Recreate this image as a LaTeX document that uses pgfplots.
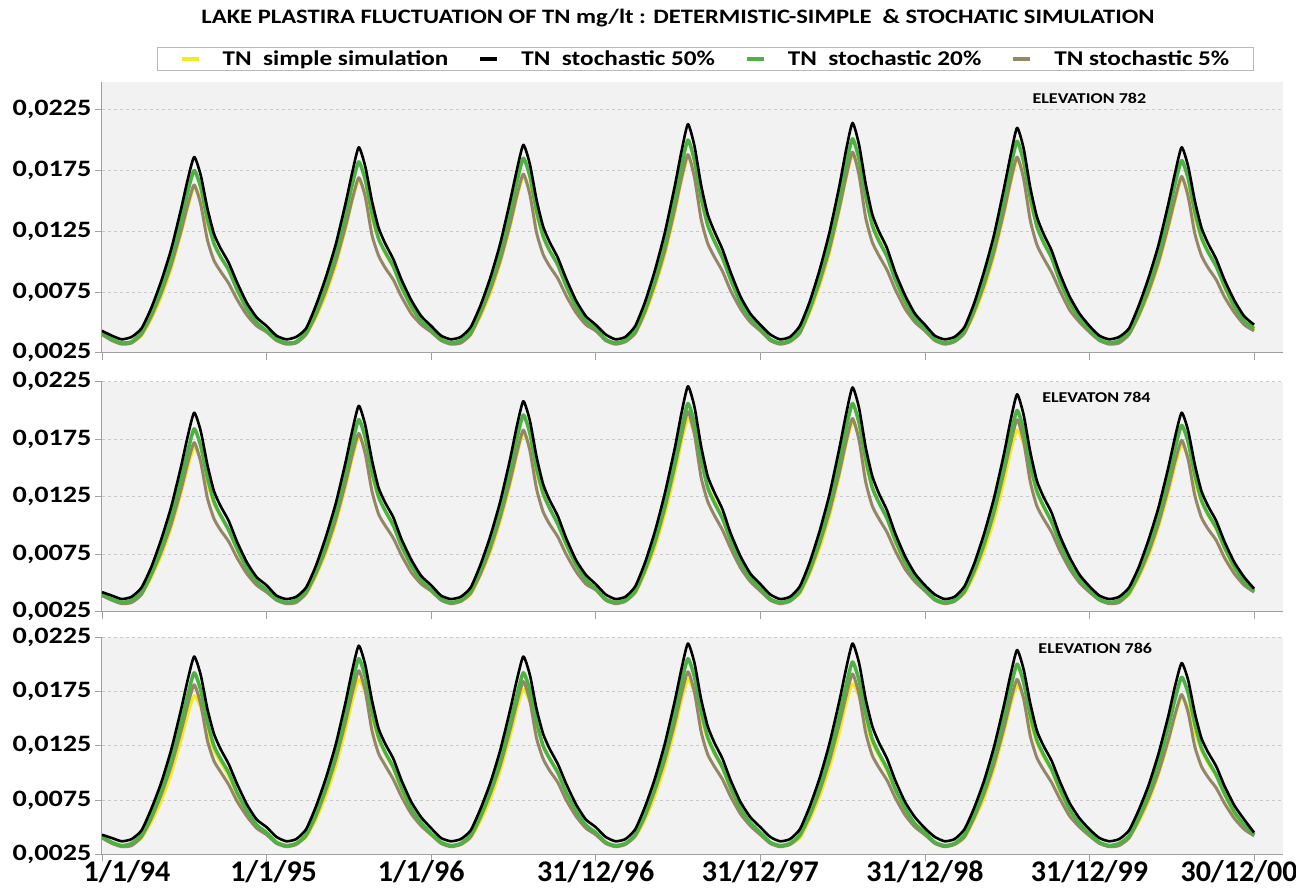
\documentclass[border=0pt]{standalone}
\usepackage{pgfplots}
\pgfplotsset{compat=1.18}
\usepackage{pgfplotstable}
\usepackage{fontspec}
\setmainfont{Carlito}
\newfontfamily\sfont{Carlito}[FakeStretch=1.2]
\definecolor{cyel}{RGB}{240,236,30}
\definecolor{cgrn}{RGB}{76,178,66}
\definecolor{cbrn}{RGB}{150,134,104}
\definecolor{bggray}{RGB}{242,242,242}
\definecolor{axgray}{RGB}{160,160,160}
\definecolor{gridgray}{RGB}{200,200,200}

\pgfplotstableread{
x yel blk grn brn
0.00 0.0040 0.0043 0.0041 0.0040
0.06 0.0036 0.0039 0.0036 0.0035
0.12 0.0033 0.0036 0.0033 0.0032
0.18 0.0034 0.0038 0.0034 0.0033
0.24 0.0039 0.0045 0.0042 0.0040
0.30 0.0053 0.0062 0.0058 0.0055
0.36 0.0071 0.0084 0.0078 0.0074
0.42 0.0094 0.0110 0.0103 0.0097
0.48 0.0123 0.0143 0.0134 0.0125
0.52 0.0144 0.0167 0.0157 0.0146
0.56 0.0161 0.0186 0.0175 0.0163
0.60 0.0151 0.0171 0.0161 0.0147
0.64 0.0132 0.0144 0.0135 0.0118
0.68 0.0115 0.0123 0.0115 0.0101
0.72 0.0104 0.0111 0.0104 0.0092
0.77 0.0093 0.0099 0.0093 0.0082
0.82 0.0077 0.0083 0.0077 0.0069
0.88 0.0061 0.0066 0.0061 0.0056
0.94 0.0049 0.0054 0.0050 0.0047
1.00 0.0042 0.0047 0.0043 0.0042
1.06 0.0036 0.0039 0.0036 0.0035
1.12 0.0033 0.0036 0.0033 0.0032
1.18 0.0034 0.0038 0.0034 0.0033
1.24 0.0040 0.0045 0.0042 0.0040
1.30 0.0054 0.0064 0.0059 0.0056
1.36 0.0073 0.0087 0.0081 0.0076
1.42 0.0097 0.0114 0.0107 0.0100
1.48 0.0127 0.0148 0.0139 0.0129
1.52 0.0150 0.0173 0.0163 0.0151
1.56 0.0167 0.0194 0.0182 0.0169
1.60 0.0156 0.0178 0.0167 0.0153
1.64 0.0136 0.0150 0.0140 0.0122
1.68 0.0119 0.0128 0.0119 0.0105
1.72 0.0107 0.0115 0.0108 0.0095
1.77 0.0095 0.0102 0.0096 0.0085
1.82 0.0079 0.0085 0.0079 0.0071
1.88 0.0062 0.0068 0.0063 0.0057
1.94 0.0050 0.0055 0.0051 0.0048
2.00 0.0043 0.0047 0.0044 0.0042
2.06 0.0036 0.0039 0.0036 0.0035
2.12 0.0033 0.0036 0.0033 0.0032
2.18 0.0034 0.0038 0.0035 0.0033
2.24 0.0040 0.0046 0.0042 0.0040
2.30 0.0055 0.0064 0.0060 0.0057
2.36 0.0074 0.0087 0.0082 0.0077
2.42 0.0099 0.0115 0.0108 0.0101
2.48 0.0129 0.0150 0.0141 0.0131
2.52 0.0152 0.0175 0.0165 0.0154
2.56 0.0170 0.0196 0.0185 0.0172
2.60 0.0159 0.0180 0.0170 0.0155
2.64 0.0138 0.0151 0.0142 0.0124
2.68 0.0121 0.0129 0.0121 0.0106
2.72 0.0109 0.0116 0.0109 0.0096
2.77 0.0097 0.0103 0.0097 0.0086
2.82 0.0080 0.0086 0.0080 0.0072
2.88 0.0062 0.0068 0.0063 0.0058
2.94 0.0050 0.0055 0.0051 0.0048
3.00 0.0044 0.0048 0.0045 0.0043
3.06 0.0036 0.0040 0.0036 0.0035
3.12 0.0033 0.0036 0.0033 0.0032
3.18 0.0035 0.0038 0.0035 0.0034
3.24 0.0041 0.0047 0.0043 0.0041
3.30 0.0057 0.0067 0.0062 0.0059
3.36 0.0079 0.0093 0.0086 0.0082
3.42 0.0106 0.0124 0.0116 0.0109
3.48 0.0140 0.0162 0.0152 0.0143
3.52 0.0166 0.0190 0.0178 0.0168
3.56 0.0186 0.0213 0.0200 0.0188
3.60 0.0174 0.0195 0.0183 0.0169
3.64 0.0151 0.0163 0.0153 0.0135
3.68 0.0131 0.0139 0.0130 0.0115
3.72 0.0118 0.0125 0.0117 0.0104
3.77 0.0104 0.0110 0.0103 0.0092
3.82 0.0085 0.0091 0.0085 0.0076
3.88 0.0066 0.0071 0.0066 0.0061
3.94 0.0052 0.0057 0.0053 0.0050
4.00 0.0044 0.0048 0.0045 0.0043
4.06 0.0036 0.0040 0.0036 0.0035
4.12 0.0033 0.0036 0.0033 0.0032
4.18 0.0035 0.0038 0.0035 0.0034
4.24 0.0041 0.0047 0.0043 0.0041
4.30 0.0058 0.0067 0.0062 0.0060
4.36 0.0080 0.0093 0.0087 0.0083
4.42 0.0107 0.0124 0.0116 0.0110
4.48 0.0142 0.0162 0.0152 0.0144
4.52 0.0168 0.0191 0.0179 0.0169
4.56 0.0188 0.0214 0.0201 0.0190
4.60 0.0176 0.0196 0.0184 0.0171
4.64 0.0152 0.0164 0.0154 0.0136
4.68 0.0132 0.0139 0.0130 0.0116
4.72 0.0119 0.0125 0.0117 0.0105
4.77 0.0105 0.0111 0.0104 0.0093
4.82 0.0086 0.0091 0.0085 0.0077
4.88 0.0066 0.0072 0.0067 0.0061
4.94 0.0052 0.0057 0.0053 0.0050
5.00 0.0044 0.0048 0.0045 0.0043
5.06 0.0036 0.0039 0.0036 0.0035
5.12 0.0033 0.0036 0.0033 0.0032
5.18 0.0035 0.0038 0.0035 0.0034
5.24 0.0041 0.0046 0.0043 0.0041
5.30 0.0057 0.0066 0.0062 0.0059
5.36 0.0078 0.0092 0.0086 0.0081
5.42 0.0105 0.0122 0.0115 0.0108
5.48 0.0139 0.0160 0.0151 0.0141
5.52 0.0164 0.0187 0.0177 0.0166
5.56 0.0184 0.0210 0.0199 0.0186
5.60 0.0172 0.0193 0.0182 0.0168
5.64 0.0149 0.0161 0.0153 0.0134
5.68 0.0130 0.0137 0.0129 0.0114
5.72 0.0117 0.0123 0.0116 0.0103
5.77 0.0103 0.0109 0.0103 0.0091
5.82 0.0084 0.0090 0.0084 0.0076
5.88 0.0065 0.0071 0.0066 0.0060
5.94 0.0052 0.0057 0.0053 0.0050
6.00 0.0042 0.0047 0.0044 0.0042
6.06 0.0036 0.0039 0.0036 0.0035
6.12 0.0033 0.0036 0.0033 0.0032
6.18 0.0034 0.0038 0.0035 0.0033
6.24 0.0040 0.0045 0.0042 0.0040
6.30 0.0055 0.0064 0.0059 0.0056
6.36 0.0074 0.0087 0.0081 0.0076
6.42 0.0098 0.0114 0.0107 0.0100
6.48 0.0128 0.0148 0.0140 0.0130
6.52 0.0150 0.0173 0.0164 0.0152
6.56 0.0168 0.0194 0.0183 0.0170
6.60 0.0157 0.0178 0.0168 0.0153
6.64 0.0137 0.0150 0.0141 0.0123
6.68 0.0119 0.0128 0.0120 0.0105
6.72 0.0108 0.0115 0.0108 0.0095
6.77 0.0096 0.0102 0.0096 0.0085
6.82 0.0079 0.0085 0.0080 0.0071
6.88 0.0062 0.0068 0.0063 0.0058
6.94 0.0050 0.0055 0.0051 0.0048
7.00 0.0044 0.0048 0.0045 0.0043
}\tabA

\pgfplotstableread{
x yel blk grn brn
0.00 0.0040 0.0042 0.0040 0.0039
0.06 0.0036 0.0039 0.0036 0.0035
0.12 0.0033 0.0036 0.0033 0.0032
0.18 0.0034 0.0038 0.0035 0.0033
0.24 0.0040 0.0046 0.0042 0.0040
0.30 0.0055 0.0064 0.0059 0.0057
0.36 0.0074 0.0088 0.0081 0.0077
0.42 0.0098 0.0116 0.0108 0.0101
0.48 0.0128 0.0151 0.0140 0.0131
0.52 0.0150 0.0177 0.0164 0.0154
0.56 0.0168 0.0198 0.0184 0.0172
0.60 0.0157 0.0182 0.0169 0.0155
0.64 0.0137 0.0153 0.0142 0.0124
0.68 0.0119 0.0130 0.0121 0.0106
0.72 0.0108 0.0117 0.0109 0.0096
0.77 0.0096 0.0104 0.0096 0.0086
0.82 0.0079 0.0086 0.0080 0.0072
0.88 0.0062 0.0068 0.0063 0.0058
0.94 0.0050 0.0055 0.0051 0.0048
1.00 0.0043 0.0048 0.0044 0.0042
1.06 0.0036 0.0039 0.0036 0.0035
1.12 0.0033 0.0036 0.0033 0.0032
1.18 0.0034 0.0038 0.0035 0.0033
1.24 0.0040 0.0046 0.0043 0.0041
1.30 0.0056 0.0065 0.0061 0.0058
1.36 0.0076 0.0090 0.0084 0.0079
1.42 0.0102 0.0119 0.0112 0.0105
1.48 0.0134 0.0155 0.0146 0.0137
1.52 0.0158 0.0182 0.0171 0.0161
1.56 0.0177 0.0204 0.0192 0.0180
1.60 0.0165 0.0187 0.0176 0.0162
1.64 0.0144 0.0157 0.0147 0.0130
1.68 0.0125 0.0133 0.0125 0.0110
1.72 0.0113 0.0120 0.0113 0.0100
1.77 0.0100 0.0107 0.0100 0.0089
1.82 0.0082 0.0088 0.0082 0.0074
1.88 0.0064 0.0070 0.0065 0.0059
1.94 0.0051 0.0056 0.0052 0.0049
2.00 0.0043 0.0048 0.0044 0.0043
2.06 0.0036 0.0039 0.0036 0.0035
2.12 0.0033 0.0036 0.0033 0.0032
2.18 0.0034 0.0038 0.0035 0.0034
2.24 0.0040 0.0046 0.0043 0.0041
2.30 0.0057 0.0066 0.0062 0.0058
2.36 0.0077 0.0091 0.0085 0.0080
2.42 0.0104 0.0121 0.0114 0.0107
2.48 0.0136 0.0158 0.0149 0.0139
2.52 0.0161 0.0186 0.0175 0.0163
2.56 0.0180 0.0208 0.0196 0.0183
2.60 0.0168 0.0191 0.0180 0.0165
2.64 0.0146 0.0160 0.0150 0.0132
2.68 0.0127 0.0136 0.0128 0.0112
2.72 0.0115 0.0122 0.0115 0.0101
2.77 0.0101 0.0108 0.0101 0.0090
2.82 0.0083 0.0089 0.0084 0.0075
2.88 0.0065 0.0070 0.0066 0.0060
2.94 0.0051 0.0057 0.0053 0.0049
3.00 0.0044 0.0049 0.0045 0.0044
3.06 0.0036 0.0040 0.0036 0.0035
3.12 0.0033 0.0036 0.0033 0.0032
3.18 0.0035 0.0038 0.0035 0.0034
3.24 0.0041 0.0047 0.0043 0.0042
3.30 0.0059 0.0068 0.0063 0.0061
3.36 0.0081 0.0095 0.0088 0.0085
3.42 0.0110 0.0128 0.0119 0.0115
3.48 0.0145 0.0167 0.0156 0.0151
3.52 0.0172 0.0197 0.0184 0.0177
3.56 0.0193 0.0221 0.0206 0.0199
3.60 0.0180 0.0203 0.0189 0.0179
3.64 0.0156 0.0169 0.0158 0.0142
3.68 0.0135 0.0143 0.0133 0.0121
3.72 0.0122 0.0129 0.0120 0.0109
3.77 0.0107 0.0114 0.0106 0.0096
3.82 0.0087 0.0093 0.0087 0.0080
3.88 0.0067 0.0073 0.0068 0.0063
3.94 0.0053 0.0058 0.0054 0.0051
4.00 0.0044 0.0049 0.0045 0.0043
4.06 0.0036 0.0040 0.0036 0.0035
4.12 0.0033 0.0036 0.0033 0.0032
4.18 0.0035 0.0038 0.0035 0.0034
4.24 0.0041 0.0047 0.0043 0.0042
4.30 0.0058 0.0068 0.0063 0.0060
4.36 0.0080 0.0095 0.0088 0.0084
4.42 0.0108 0.0127 0.0119 0.0112
4.48 0.0143 0.0167 0.0156 0.0146
4.52 0.0170 0.0196 0.0184 0.0172
4.56 0.0190 0.0220 0.0206 0.0193
4.60 0.0177 0.0202 0.0189 0.0174
4.64 0.0154 0.0168 0.0158 0.0138
4.68 0.0133 0.0143 0.0133 0.0117
4.72 0.0120 0.0128 0.0120 0.0106
4.77 0.0106 0.0113 0.0106 0.0094
4.82 0.0086 0.0093 0.0087 0.0078
4.88 0.0067 0.0073 0.0068 0.0062
4.94 0.0053 0.0058 0.0054 0.0051
5.00 0.0044 0.0048 0.0045 0.0043
5.06 0.0036 0.0040 0.0036 0.0035
5.12 0.0033 0.0036 0.0033 0.0032
5.18 0.0035 0.0038 0.0035 0.0034
5.24 0.0041 0.0047 0.0043 0.0042
5.30 0.0057 0.0067 0.0062 0.0060
5.36 0.0078 0.0093 0.0086 0.0083
5.42 0.0105 0.0124 0.0116 0.0111
5.48 0.0138 0.0162 0.0152 0.0146
5.52 0.0164 0.0191 0.0178 0.0171
5.56 0.0183 0.0214 0.0200 0.0192
5.60 0.0171 0.0196 0.0183 0.0173
5.64 0.0149 0.0164 0.0153 0.0138
5.68 0.0129 0.0139 0.0130 0.0117
5.72 0.0116 0.0125 0.0117 0.0106
5.77 0.0103 0.0111 0.0103 0.0094
5.82 0.0084 0.0091 0.0085 0.0078
5.88 0.0065 0.0072 0.0066 0.0062
5.94 0.0052 0.0057 0.0053 0.0050
6.00 0.0043 0.0047 0.0044 0.0042
6.06 0.0036 0.0039 0.0036 0.0035
6.12 0.0033 0.0036 0.0033 0.0032
6.18 0.0034 0.0038 0.0035 0.0033
6.24 0.0040 0.0046 0.0042 0.0041
6.30 0.0055 0.0064 0.0060 0.0057
6.36 0.0074 0.0088 0.0082 0.0077
6.42 0.0099 0.0116 0.0109 0.0102
6.48 0.0129 0.0151 0.0142 0.0133
6.52 0.0152 0.0177 0.0167 0.0156
6.56 0.0170 0.0198 0.0187 0.0174
6.60 0.0159 0.0182 0.0172 0.0157
6.64 0.0138 0.0153 0.0144 0.0126
6.68 0.0121 0.0130 0.0122 0.0107
6.72 0.0109 0.0117 0.0110 0.0097
6.77 0.0097 0.0104 0.0098 0.0087
6.82 0.0080 0.0086 0.0081 0.0072
6.88 0.0062 0.0068 0.0064 0.0058
6.94 0.0050 0.0055 0.0051 0.0048
7.00 0.0043 0.0045 0.0043 0.0042
}\tabB

\pgfplotstableread{
x yel blk grn brn
0.00 0.0041 0.0043 0.0041 0.0040
0.06 0.0036 0.0040 0.0036 0.0035
0.12 0.0033 0.0037 0.0033 0.0032
0.18 0.0034 0.0039 0.0035 0.0033
0.24 0.0040 0.0047 0.0043 0.0041
0.30 0.0055 0.0067 0.0061 0.0058
0.36 0.0074 0.0091 0.0084 0.0080
0.42 0.0099 0.0121 0.0112 0.0106
0.48 0.0130 0.0158 0.0146 0.0138
0.52 0.0153 0.0185 0.0171 0.0162
0.56 0.0171 0.0207 0.0192 0.0181
0.60 0.0160 0.0190 0.0176 0.0163
0.64 0.0139 0.0159 0.0147 0.0130
0.68 0.0121 0.0136 0.0125 0.0111
0.72 0.0110 0.0122 0.0113 0.0101
0.77 0.0097 0.0108 0.0100 0.0089
0.82 0.0080 0.0090 0.0082 0.0074
0.88 0.0063 0.0071 0.0065 0.0060
0.94 0.0050 0.0057 0.0052 0.0049
1.00 0.0044 0.0050 0.0045 0.0043
1.06 0.0036 0.0041 0.0036 0.0035
1.12 0.0033 0.0037 0.0033 0.0032
1.18 0.0035 0.0039 0.0035 0.0034
1.24 0.0041 0.0048 0.0043 0.0042
1.30 0.0057 0.0069 0.0063 0.0060
1.36 0.0079 0.0095 0.0088 0.0084
1.42 0.0106 0.0126 0.0118 0.0112
1.48 0.0140 0.0165 0.0155 0.0147
1.52 0.0166 0.0194 0.0183 0.0173
1.56 0.0186 0.0217 0.0205 0.0194
1.60 0.0174 0.0199 0.0188 0.0175
1.64 0.0151 0.0167 0.0157 0.0139
1.68 0.0131 0.0141 0.0133 0.0118
1.72 0.0118 0.0127 0.0119 0.0107
1.77 0.0104 0.0113 0.0105 0.0094
1.82 0.0085 0.0093 0.0086 0.0078
1.88 0.0066 0.0073 0.0067 0.0062
1.94 0.0052 0.0059 0.0054 0.0051
2.00 0.0043 0.0049 0.0044 0.0043
2.06 0.0036 0.0040 0.0036 0.0035
2.12 0.0033 0.0037 0.0033 0.0032
2.18 0.0034 0.0039 0.0035 0.0034
2.24 0.0040 0.0047 0.0043 0.0041
2.30 0.0056 0.0067 0.0061 0.0059
2.36 0.0076 0.0091 0.0084 0.0081
2.42 0.0102 0.0121 0.0112 0.0107
2.48 0.0134 0.0158 0.0146 0.0140
2.52 0.0158 0.0185 0.0171 0.0164
2.56 0.0177 0.0207 0.0192 0.0184
2.60 0.0165 0.0190 0.0176 0.0166
2.64 0.0144 0.0159 0.0147 0.0132
2.68 0.0125 0.0136 0.0125 0.0113
2.72 0.0113 0.0122 0.0113 0.0102
2.77 0.0100 0.0108 0.0100 0.0091
2.82 0.0082 0.0090 0.0082 0.0075
2.88 0.0064 0.0071 0.0065 0.0060
2.94 0.0051 0.0057 0.0052 0.0049
3.00 0.0044 0.0050 0.0045 0.0043
3.06 0.0036 0.0041 0.0036 0.0035
3.12 0.0033 0.0037 0.0033 0.0032
3.18 0.0035 0.0039 0.0035 0.0034
3.24 0.0041 0.0048 0.0043 0.0042
3.30 0.0057 0.0069 0.0063 0.0060
3.36 0.0079 0.0095 0.0088 0.0084
3.42 0.0106 0.0127 0.0118 0.0112
3.48 0.0140 0.0166 0.0155 0.0146
3.52 0.0166 0.0195 0.0183 0.0172
3.56 0.0186 0.0219 0.0205 0.0193
3.60 0.0174 0.0201 0.0188 0.0174
3.64 0.0151 0.0168 0.0157 0.0138
3.68 0.0131 0.0143 0.0133 0.0117
3.72 0.0118 0.0128 0.0119 0.0106
3.77 0.0104 0.0113 0.0105 0.0094
3.82 0.0085 0.0093 0.0086 0.0078
3.88 0.0066 0.0073 0.0067 0.0062
3.94 0.0052 0.0059 0.0054 0.0051
4.00 0.0043 0.0050 0.0045 0.0043
4.06 0.0036 0.0041 0.0036 0.0035
4.12 0.0033 0.0037 0.0033 0.0032
4.18 0.0034 0.0039 0.0035 0.0034
4.24 0.0040 0.0048 0.0043 0.0042
4.30 0.0057 0.0069 0.0063 0.0060
4.36 0.0078 0.0095 0.0087 0.0083
4.42 0.0105 0.0127 0.0117 0.0111
4.48 0.0137 0.0166 0.0153 0.0145
4.52 0.0163 0.0195 0.0180 0.0170
4.56 0.0182 0.0219 0.0202 0.0191
4.60 0.0170 0.0201 0.0185 0.0172
4.64 0.0148 0.0168 0.0155 0.0137
4.68 0.0128 0.0143 0.0131 0.0116
4.72 0.0116 0.0128 0.0118 0.0105
4.77 0.0102 0.0113 0.0104 0.0093
4.82 0.0084 0.0093 0.0085 0.0077
4.88 0.0065 0.0073 0.0067 0.0061
4.94 0.0052 0.0059 0.0053 0.0050
5.00 0.0043 0.0049 0.0045 0.0043
5.06 0.0036 0.0041 0.0036 0.0035
5.12 0.0033 0.0037 0.0033 0.0032
5.18 0.0034 0.0039 0.0035 0.0034
5.24 0.0040 0.0048 0.0043 0.0041
5.30 0.0057 0.0068 0.0062 0.0059
5.36 0.0077 0.0093 0.0086 0.0081
5.42 0.0104 0.0124 0.0116 0.0108
5.48 0.0137 0.0162 0.0152 0.0141
5.52 0.0162 0.0190 0.0178 0.0166
5.56 0.0181 0.0213 0.0200 0.0186
5.60 0.0169 0.0195 0.0183 0.0168
5.64 0.0147 0.0164 0.0153 0.0134
5.68 0.0128 0.0139 0.0130 0.0114
5.72 0.0115 0.0125 0.0117 0.0103
5.77 0.0102 0.0111 0.0103 0.0091
5.82 0.0083 0.0092 0.0085 0.0076
5.88 0.0065 0.0072 0.0066 0.0060
5.94 0.0052 0.0058 0.0053 0.0050
6.00 0.0043 0.0048 0.0044 0.0042
6.06 0.0036 0.0040 0.0036 0.0035
6.12 0.0033 0.0037 0.0033 0.0032
6.18 0.0034 0.0039 0.0035 0.0033
6.24 0.0040 0.0047 0.0042 0.0040
6.30 0.0055 0.0066 0.0060 0.0057
6.36 0.0074 0.0089 0.0083 0.0077
6.42 0.0099 0.0118 0.0110 0.0101
6.48 0.0129 0.0153 0.0143 0.0131
6.52 0.0152 0.0180 0.0168 0.0154
6.56 0.0170 0.0201 0.0188 0.0172
6.60 0.0159 0.0185 0.0173 0.0155
6.64 0.0138 0.0155 0.0145 0.0124
6.68 0.0121 0.0132 0.0123 0.0106
6.72 0.0109 0.0119 0.0111 0.0096
6.77 0.0097 0.0106 0.0098 0.0086
6.82 0.0080 0.0088 0.0081 0.0072
6.88 0.0062 0.0070 0.0064 0.0058
6.94 0.0050 0.0057 0.0052 0.0048
7.00 0.0043 0.0045 0.0043 0.0042
}\tabC

\pgfplotsset{
  panel/.style={
    scale only axis, width=1181pt, anchor=south west,
    xmin=0, xmax=7.176, ymin=0.0025,
    axis x line*=bottom, axis y line*=left,
    axis line style={draw=axgray, line width=1pt},
    axis background/.style={fill=bggray},
    xtick={0,1,2,3,4,5,6,7}, xticklabels={},
    ytick={0.0025,0.0075,0.0125,0.0175,0.0225},
    yticklabels={{0,0025},{0,0075},{0,0125},{0,0175},{0,0225}},
    scaled y ticks=false,
    ymajorgrids, grid style={dashed, gridgray, line width=0.8pt},
    tick align=outside, major tick length=7pt,
    tick style={draw=axgray, line width=0.8pt},
    yticklabel style={font=\sfont\bfseries\fontsize{23.5}{26}\selectfont},
    legend image code/.code={\draw[#1] (0pt,0pt) -- (17pt,0pt);},
  },
  pyel/.style={cyel, line width=3pt, line join=round, smooth, tension=0.35, forget plot},
  pbrn/.style={cbrn, line width=3pt, line join=round, smooth, tension=0.35, forget plot},
  pgrn/.style={cgrn, line width=3.5pt, line join=round, smooth, tension=0.35, forget plot},
  pblk/.style={black, line width=2.6pt, line join=round, smooth, tension=0.35, forget plot},
}

\begin{document}
\begin{tikzpicture}
\useasboundingbox (0,0) rectangle (1296pt,887pt);
\node[font=\sfont\bfseries\fontsize{20.5}{24}\selectfont] at (678pt,869pt)
  {LAKE PLASTIRA FLUCTUATION OF TN mg/lt : DETERMISTIC-SIMPLE\ \ \& STOCHATIC SIMULATION};

\begin{axis}[panel, at={(102pt,534.3pt)}, height=271pt, ymax=0.0248,
  legend columns=4,
  legend style={at={(0.511,1.043)}, anchor=south, draw=gray!55, fill=white,
    font=\sfont\bfseries\fontsize{21}{24}\selectfont, inner ysep=1pt, inner xsep=22pt,
    /tikz/every odd column/.append style={column sep=20pt},
    /tikz/every even column/.append style={column sep=28pt}},
  ]
\addplot[pyel] table[x=x,y=yel]{\tabA};
\addplot[pbrn] table[x=x,y=brn]{\tabA};
\addplot[pgrn] table[x=x,y=grn]{\tabA};
\addplot[pblk] table[x=x,y=blk]{\tabA};
\addlegendimage{cyel, line width=4pt}
\addlegendentry{TN\ \ simple simulation}
\addlegendimage{black, line width=4pt}
\addlegendentry{TN\ \ stochastic 50\%}
\addlegendimage{cgrn, line width=4pt}
\addlegendentry{TN\ \ stochastic 20\%}
\addlegendimage{cbrn, line width=4pt}
\addlegendentry{TN stochastic 5\%}
\node[font=\sfont\bfseries\fontsize{15}{17}\selectfont] at (rel axis cs:0.836,0.94) {ELEVATION 782};
\end{axis}

\begin{axis}[panel, at={(102pt,275.3pt)}, height=230pt, ymax=0.0225]
\addplot[pyel] table[x=x,y=yel]{\tabB};
\addplot[pbrn] table[x=x,y=brn]{\tabB};
\addplot[pgrn] table[x=x,y=grn]{\tabB};
\addplot[pblk] table[x=x,y=blk]{\tabB};
\node[font=\sfont\bfseries\fontsize{15}{17}\selectfont] at (rel axis cs:0.842,0.933) {ELEVATON 784};
\end{axis}

\begin{axis}[panel, at={(102pt,32.7pt)}, height=217.3pt, ymax=0.0225,
  xticklabels={\hspace*{50pt}1/1/94, \hspace*{14pt}1/1/95, 1/1/96\hspace*{20pt}, 31/12/96, 31/12/97, 31/12/98, 31/12/99, 30/12/00\hspace*{30pt}},
  xticklabel style={font=\bfseries\fontsize{30}{32}\selectfont, yshift=4pt},
  ]
\addplot[pyel] table[x=x,y=yel]{\tabC};
\addplot[pbrn] table[x=x,y=brn]{\tabC};
\addplot[pgrn] table[x=x,y=grn]{\tabC};
\addplot[pblk] table[x=x,y=blk]{\tabC};
\node[font=\sfont\bfseries\fontsize{15}{17}\selectfont] at (rel axis cs:0.841,0.949) {ELEVATION 786};
\end{axis}
\end{tikzpicture}
\end{document}
